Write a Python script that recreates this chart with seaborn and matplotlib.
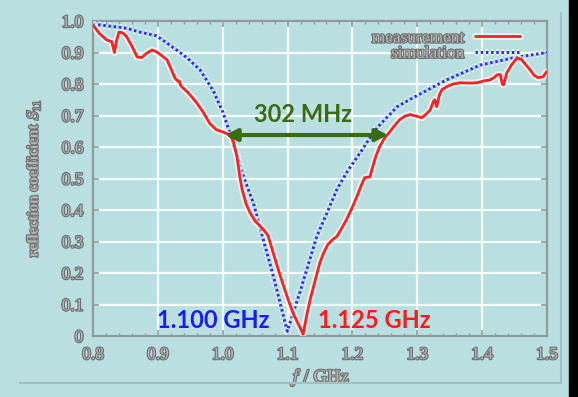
import numpy as np
import pandas as pd
import matplotlib
matplotlib.use("Agg")
import matplotlib.pyplot as plt
import matplotlib.patheffects as pe
from matplotlib.lines import Line2D
from matplotlib.ticker import MultipleLocator, FixedLocator
import seaborn as sns

# ---- data ----
f_sim = [0.800, 0.852, 0.872, 0.898, 0.929, 0.945, 0.965, 0.985, 1.000, 1.011,
         1.033, 1.047, 1.057, 1.078, 1.0996, 1.119, 1.145, 1.161, 1.176, 1.191,
         1.212, 1.232, 1.242, 1.269, 1.293, 1.345, 1.397, 1.448, 1.500]
s_sim = [0.990, 0.977, 0.965, 0.953, 0.908, 0.883, 0.845, 0.780, 0.712, 0.645,
         0.500, 0.424, 0.348, 0.190, 0.015, 0.139, 0.316, 0.392, 0.465, 0.519,
         0.582, 0.645, 0.670, 0.728, 0.756, 0.813, 0.860, 0.883, 0.900]

f_meas = [0.800, 0.810, 0.821, 0.829, 0.833, 0.836, 0.840, 0.846, 0.852, 0.860,
          0.868, 0.875, 0.883, 0.891, 0.898, 0.906, 0.914, 0.920, 0.926, 0.931,
          0.933, 0.935, 0.940, 0.945, 0.952, 0.960, 0.970, 0.980, 0.990, 1.000,
          1.011, 1.016, 1.022, 1.026, 1.030, 1.036, 1.042, 1.050, 1.058, 1.064,
          1.070, 1.077, 1.084, 1.092, 1.099, 1.108, 1.116, 1.124, 1.130, 1.135,
          1.143, 1.150, 1.156, 1.162, 1.169, 1.176, 1.183, 1.191, 1.199, 1.207,
          1.213, 1.219, 1.227, 1.230, 1.236, 1.242, 1.250, 1.258, 1.265, 1.273,
          1.281, 1.289, 1.298, 1.307, 1.314, 1.320, 1.325, 1.327, 1.330, 1.334,
          1.338, 1.345, 1.355, 1.366, 1.380, 1.392, 1.403, 1.412, 1.418, 1.423,
          1.428, 1.431, 1.433, 1.438, 1.445, 1.454, 1.461, 1.467, 1.474, 1.480,
          1.486, 1.494, 1.500]
s_meas = [0.987, 0.960, 0.940, 0.934, 0.900, 0.935, 0.965, 0.962, 0.950, 0.920,
          0.886, 0.884, 0.898, 0.908, 0.902, 0.890, 0.877, 0.850, 0.820, 0.808,
          0.810, 0.795, 0.785, 0.776, 0.760, 0.740, 0.710, 0.675, 0.655, 0.648,
          0.638, 0.620, 0.570, 0.510, 0.465, 0.420, 0.392, 0.365, 0.348, 0.335,
          0.318, 0.270, 0.222, 0.170, 0.127, 0.075, 0.040, 0.006, 0.070, 0.117,
          0.180, 0.234, 0.265, 0.290, 0.305, 0.316, 0.340, 0.370, 0.405, 0.443,
          0.475, 0.503, 0.505, 0.528, 0.570, 0.601, 0.630, 0.649, 0.668, 0.687,
          0.698, 0.703, 0.698, 0.693, 0.705, 0.718, 0.745, 0.750, 0.728, 0.765,
          0.782, 0.791, 0.800, 0.804, 0.803, 0.804, 0.810, 0.813, 0.820, 0.829,
          0.830, 0.800, 0.797, 0.835, 0.860, 0.883, 0.877, 0.862, 0.845, 0.828,
          0.820, 0.823, 0.840]

series_names = ["measurement", "simulation"]
x_ticks = [0.8, 0.9, 1.0, 1.1, 1.2, 1.3, 1.4, 1.5]
x_tick_labels = ["0.8", "0.9", "1.0", "1.1", "1.2", "1.3", "1.4", "1.5"]
y_ticks = [0.0, 0.1, 0.2, 0.3, 0.4, 0.5, 0.6, 0.7, 0.8, 0.9, 1.0]
y_tick_labels = ["0", "0.1", "0.2", "0.3", "0.4", "0.5", "0.6", "0.7", "0.8", "0.9", "1.0"]
bw_left, bw_right, bw_level = 1.0035, 1.255, 0.638
bw_label = "302 MHz"
sim_res_label = "1.100 GHz"
meas_res_label = "1.125 GHz"

# ---- styling ----
BG = "#b9dfe1"
sns.set_style("ticks", {"axes.facecolor": BG, "figure.facecolor": BG})
plt.rcParams["font.family"] = ["Liberation Serif", "DejaVu Serif"]
plt.rcParams["mathtext.fontset"] = "cm"

fig = plt.figure(figsize=(5.78, 3.97), dpi=100)
fig.patch.set_facecolor(BG)
ax = fig.add_axes([93 / 578, 1 - 336 / 397, (547 - 93) / 578, (336 - 21) / 397])
ax.set_facecolor(BG)

df = pd.concat([
    pd.DataFrame({"f": f_meas, "S": s_meas, "kind": series_names[0]}),
    pd.DataFrame({"f": f_sim, "S": s_sim, "kind": series_names[1]}),
], ignore_index=True)

halo = [pe.Stroke(linewidth=5, foreground="white", alpha=0.55), pe.Normal()]
dot_style = (0, (0.8, 0.9))
sns.lineplot(data=df[df.kind == series_names[0]], x="f", y="S", ax=ax,
             color="#ff2020", lw=2.0, estimator=None, sort=False, legend=False, zorder=4)
sns.lineplot(data=df[df.kind == series_names[1]], x="f", y="S", ax=ax,
             color="#2a2aff", lw=2.2, linestyle=dot_style, estimator=None,
             sort=False, legend=False, zorder=3)
for ln in ax.lines:
    ln.set_path_effects(halo)

ax.set_xlim(0.8, 1.5)
ax.set_ylim(0, 1.0)
ax.grid(True, color="white", lw=1.6, alpha=0.9, zorder=0)
ax.set_axisbelow(True)

spine_c = "#8f9a9b"
for s in ax.spines.values():
    s.set_color(spine_c)
    s.set_linewidth(1.6)
    s.set_visible(True)

ax.xaxis.set_major_locator(FixedLocator(x_ticks))
ax.set_xticklabels(x_tick_labels)
ax.xaxis.set_minor_locator(MultipleLocator(0.02))
ax.yaxis.set_major_locator(FixedLocator(y_ticks))
ax.set_yticklabels(y_tick_labels)
ax.tick_params(which="both", direction="in", top=True, right=True, color=spine_c)
ax.tick_params(which="major", length=4, width=1.2, labelsize=12.5, labelcolor="#b4b4b4")
ax.tick_params(axis="x", which="major", pad=8)
ax.tick_params(axis="y", which="major", pad=7)
ax.tick_params(which="minor", length=2.5, width=1.0)

txt_pe = [pe.withStroke(linewidth=1.6, foreground="#6e6e6e")]
for lab in ax.get_xticklabels() + ax.get_yticklabels():
    lab.set_path_effects(txt_pe)

ax.set_xlabel(r"$f$ / GHz", fontsize=13.5, color="#b4b4b4", labelpad=3, path_effects=txt_pe)
ax.set_ylabel(r"reflection coefficient $S_{11}$", fontsize=11, color="#b4b4b4",
              fontweight="bold", labelpad=14, path_effects=txt_pe)

handles = [
    Line2D([], [], color="#ff2020", lw=2.0, path_effects=halo),
    Line2D([], [], color="#2a2aff", lw=2.2, linestyle=dot_style, path_effects=halo),
]
leg = ax.legend(handles, series_names, loc="upper right", frameon=False, markerfirst=False,
                fontsize=12.5, handlelength=2.6, bbox_to_anchor=(0.975, 1.02),
                labelspacing=-0.05, handletextpad=0.6)
for t in leg.get_texts():
    t.set_color("#b4b4b4")
    t.set_path_effects(txt_pe)

# bandwidth arrow and annotations
green = "#3b6a12"
ax.annotate("", xy=(bw_left, bw_level), xytext=(bw_right, bw_level),
            arrowprops=dict(arrowstyle="<|-|>", color=green, lw=3, mutation_scale=18,
                            shrinkA=0, shrinkB=0), zorder=6)
ann_font = ["Lato", "DejaVu Sans"]
ax.text((bw_left + bw_right) / 2 - 0.005, bw_level + 0.03, bw_label, color=green,
        fontsize=17, fontweight="bold", family=ann_font, ha="center", va="bottom", zorder=6)
ax.text(0.985, 0.05, sim_res_label, color="#1a1aff", fontsize=17, fontweight="bold",
        family=ann_font, ha="center", va="center", zorder=6)
ax.text(1.233, 0.05, meas_res_label, color="#ff1a1a", fontsize=17, fontweight="bold",
        family=ann_font, ha="center", va="center", zorder=6)

# outer frame lines and the dark strip at the right edge
frame_c = "#a3bfc1"
fig.add_artist(Line2D([561 / 578, 561 / 578], [1 - 13 / 397, 1 - 383 / 397],
                      color=frame_c, lw=1.5, transform=fig.transFigure))
fig.add_artist(Line2D([20 / 578, 561 / 578], [1 - 383 / 397, 1 - 383 / 397],
                      color=frame_c, lw=1.5, transform=fig.transFigure))
fig.add_artist(plt.Rectangle((569 / 578, 0), 9 / 578, 1, color="black",
                             transform=fig.transFigure, zorder=10))

fig.savefig("out.png", dpi=100, facecolor=BG)
